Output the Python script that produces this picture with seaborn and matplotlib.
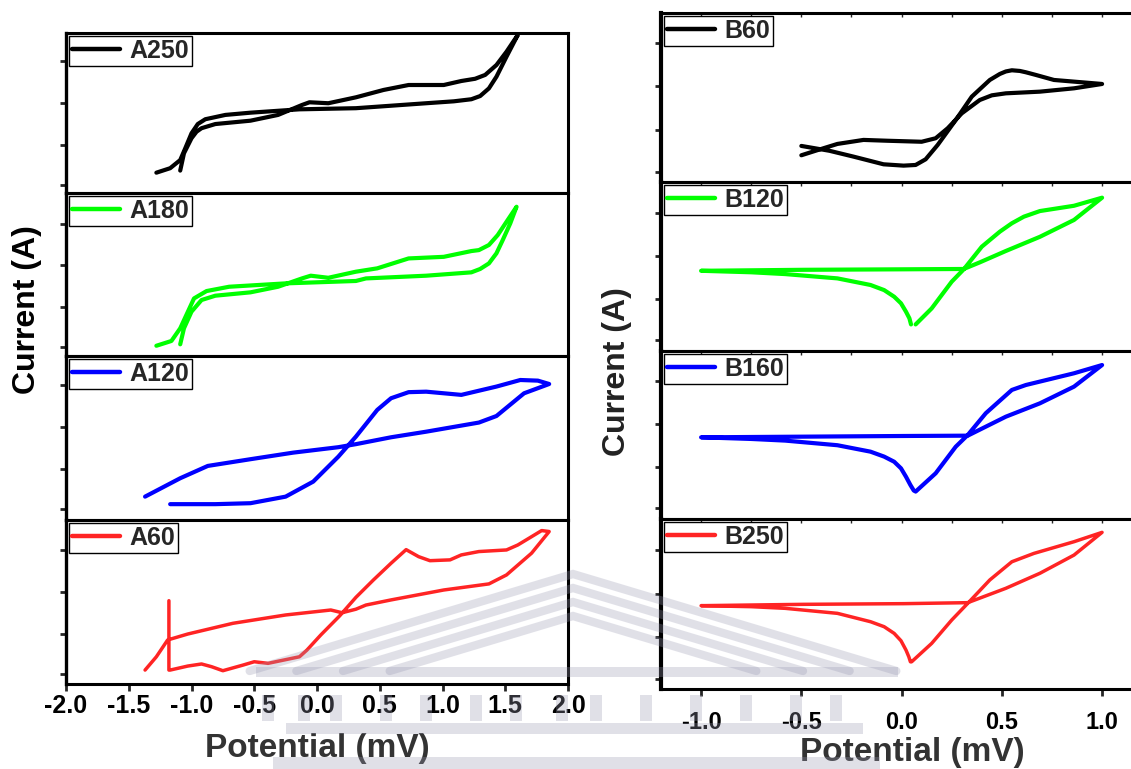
import matplotlib
matplotlib.use("Agg")
import numpy as np
import pandas as pd
import matplotlib.pyplot as plt
import seaborn as sns
from matplotlib.lines import Line2D
from matplotlib.patches import Rectangle
from matplotlib.ticker import FixedLocator

sns.set_theme(style="white")
plt.rcParams['font.family'] = ['Liberation Sans', 'DejaVu Sans']
plt.rcParams['font.weight'] = 'bold'
plt.rcParams['axes.unicode_minus'] = False

# %%
# data (potential in mV, current in arbitrary units)

A250_V = [-1.28, -1.17, -1.09, -1.05, -1.00, -0.95, -0.89, -0.73, -0.53, -0.14, 0.31, 0.87, 1.09, 1.23, 1.30, 1.37,
          1.43, 1.51, 1.60,
          1.51, 1.43, 1.34, 1.26, 1.15, 1.01, 0.73, 0.53, 0.31, 0.09, -0.06, -0.12, -0.31, -0.53, -0.81, -0.92,
          -0.96, -1.00, -1.06, -1.09]
A250_I = [1.25, 1.53, 2.04, 2.77, 3.71, 4.29, 4.59, 4.86, 5.00, 5.21, 5.28, 5.59, 5.71, 5.84, 6.04, 6.52,
          7.25, 8.50, 9.86,
          8.81, 7.98, 7.36, 7.12, 6.98, 6.73, 6.73, 6.42, 5.96, 5.59, 5.65, 5.48, 4.86, 4.50, 4.29, 4.03,
          3.81, 3.40, 2.46, 1.38]

A180_V = [-1.28, -1.16, -1.09, -0.98, -0.88, -0.70, -0.25, 0.31, 0.39, 0.87, 1.23, 1.30, 1.37, 1.43, 1.48,
          1.54, 1.59,
          1.51, 1.44, 1.37, 1.29, 1.23, 1.01, 0.73, 0.48, 0.31, 0.09, -0.05, -0.12, -0.31, -0.53, -0.81, -0.92,
          -1.00, -1.06, -1.09]
A180_I = [0.58, 0.88, 1.67, 3.54, 4.00, 4.27, 4.48, 4.63, 4.79, 4.96, 5.17, 5.38, 5.73, 6.36, 7.19,
          8.23, 9.27,
          8.33, 7.50, 6.88, 6.56, 6.50, 6.14, 6.04, 5.42, 5.21, 4.83, 4.96, 4.79, 4.27, 3.92, 3.71, 3.44,
          2.71, 1.67, 0.67]

A120_V = [-1.37, -1.09, -0.87, -0.53, -0.19, 0.17, 0.31, 0.59, 0.87, 1.29, 1.43, 1.65, 1.85,
          1.76, 1.62, 1.43, 1.15, 0.87, 0.73, 0.59, 0.48, 0.31, 0.17, -0.03, -0.25, -0.53, -0.81, -1.17]
A120_I = [1.25, 2.40, 3.17, 3.59, 4.00, 4.34, 4.53, 4.96, 5.31, 5.88, 6.29, 7.71, 8.29,
          8.50, 8.54, 8.13, 7.61, 7.81, 7.78, 7.40, 6.67, 5.00, 3.75, 2.19, 1.25, 0.84, 0.78, 0.78]

A60_V = [-1.37, -1.28, -1.19, -1.03, -0.67, -0.25, 0.11, 0.20, 0.31, 0.39, 0.59, 1.01, 1.37, 1.51, 1.71, 1.85,
         1.79, 1.71, 1.60, 1.51, 1.29, 1.15, 1.06, 0.90, 0.81, 0.71, 0.59, 0.45, 0.31, 0.18, 0.03, -0.08, -0.14,
         -0.39, -0.50, -0.59, -0.75, -0.84, -0.92, -1.03, -1.17, -1.18, -1.18]
A60_I = [0.73, 1.56, 2.61, 2.98, 3.65, 4.17, 4.48, 4.31, 4.53, 4.79, 5.11, 5.73, 6.11, 6.67, 8.03, 9.38,
         9.44, 9.06, 8.54, 8.23, 8.13, 7.92, 7.61, 7.56, 7.81, 8.25, 7.40, 6.36, 5.27, 4.11, 2.92, 1.98, 1.56,
         1.15, 1.25, 1.04, 0.69, 0.94, 1.11, 0.98, 0.73, 0.73, 5.06]

B60_V = [-0.50, -0.36, -0.24, -0.09, 0.01, 0.07, 0.12, 0.18, 0.27, 0.35, 0.44, 0.49, 0.52, 0.55, 0.59, 0.62, 0.67,
         0.76, 0.86, 1.00,
         0.86, 0.69, 0.52, 0.45, 0.39, 0.30, 0.23, 0.17, 0.10, -0.07, -0.19, -0.32, -0.39, -0.50]
B60_I = [2.04, 1.75, 1.40, 0.94, 0.86, 0.90, 1.24, 2.10, 3.59, 4.99, 5.99, 6.35, 6.50, 6.57, 6.53, 6.45, 6.29,
         5.99, 5.89, 5.75,
         5.49, 5.29, 5.19, 5.07, 4.79, 3.99, 3.10, 2.50, 2.29, 2.35, 2.40, 2.16, 1.90, 1.48]

B120_V = [0.07, 0.15, 0.25, 0.31, 0.40, 0.49, 0.55, 0.61, 0.69, 0.86, 1.00,
          0.86, 0.69, 0.52, 0.39, 0.31, 0.01, -0.49, -1.00,
          -0.75, -0.58, -0.32, -0.155, -0.087, -0.037, -0.003, 0.022, 0.039, 0.047]
B120_I = [1.45, 2.42, 4.04, 4.79, 6.16, 7.07, 7.58, 7.98, 8.32, 8.64, 9.13,
          7.78, 6.76, 5.90, 5.21, 4.81, 4.79, 4.76, 4.70,
          4.61, 4.50, 4.24, 3.84, 3.53, 3.13, 2.73, 2.22, 1.82, 1.45]

B160_V = [0.07, 0.17, 0.27, 0.33, 0.42, 0.55, 0.62, 0.86, 1.00,
          0.86, 0.69, 0.52, 0.33, 0.01, -0.49, -1.00,
          -0.75, -0.58, -0.32, -0.155, -0.087, -0.037, -0.003, 0.022, 0.044, 0.061]
B160_I = [1.52, 2.63, 4.24, 4.95, 6.27, 7.68, 7.98, 8.69, 9.19,
          7.88, 6.87, 6.06, 4.91, 4.89, 4.85, 4.81,
          4.71, 4.61, 4.33, 3.94, 3.64, 3.33, 2.93, 2.42, 1.92, 1.58]

B250_V = [0.05, 0.15, 0.25, 0.33, 0.44, 0.55, 0.66, 0.86, 1.00,
          0.86, 0.69, 0.52, 0.33, 0.01, -0.49, -1.00,
          -0.75, -0.58, -0.32, -0.155, -0.087, -0.037, -0.003, 0.022, 0.036, 0.044]
B250_I = [1.53, 2.63, 4.03, 5.03, 6.43, 7.52, 8.02, 8.72, 9.28,
          7.92, 6.83, 5.93, 5.07, 5.01, 4.97, 4.89,
          4.83, 4.73, 4.43, 3.93, 3.63, 3.23, 2.79, 2.23, 1.83, 1.53]

LEFT_TICKS = [-2.0, -1.5, -1.0, -0.5, 0.0, 0.5, 1.0, 1.5, 2.0]
RIGHT_TICKS = [-1.0, -0.5, 0.0, 0.5, 1.0]

# %%

W, H = 1131, 769
fig = plt.figure(figsize=(W / 100, H / 100), dpi=100)


def box(l, t, r, b):
    return [l / W, 1 - b / H, (r - l) / W, (b - t) / H]


left_panels = [
    ('A250', A250_V, A250_I, '#000000', box(66, 33, 568, 193), (-0.02, 9.98)),
    ('A180', A180_V, A180_I, '#00ff00', box(66, 193, 568, 356), (-0.06, 10.13)),
    ('A120', A120_V, A120_I, '#0000ff', box(66, 356, 568, 520), (-0.21, 10.04)),
    ('A60', A60_V, A60_I, '#ff2424', box(66, 520, 568, 684), (-0.14, 10.10)),
]
right_panels = [
    ('B60', B60_V, B60_I, '#000000', box(661, 13, 1150, 182), (-0.12, 10.0)),
    ('B120', B120_V, B120_I, '#00ff00', box(661, 182, 1150, 351), (-0.16, 10.08)),
    ('B160', B160_V, B160_I, '#0000ff', box(661, 351, 1150, 519), (-0.14, 10.04)),
    ('B250', B250_V, B250_I, '#ff2424', box(661, 519, 1150, 689), (-0.10, 10.08)),
]


def panel(spec, xlim, lw_spine):
    name, v, i, color, pos, ylim = spec
    ax = fig.add_axes(pos)
    df = pd.DataFrame({'Potential': v, 'Current': i})
    sns.lineplot(data=df, x='Potential', y='Current', sort=False, estimator=None,
                 color=color, lw=3.0 if color != '#ff2424' else 2.5,
                 solid_joinstyle='round', label=name, ax=ax)
    ax.set_xlim(*xlim)
    ax.set_ylim(*ylim)
    ax.set_xlabel('')
    ax.set_ylabel('')
    for s in ax.spines.values():
        s.set_visible(True)
        s.set_color('black')
        s.set_linewidth(2.2)
    ax.spines['left'].set_linewidth(lw_spine)
    ax.set_yticks([0.5, 3.0, 5.6, 8.2])
    ax.tick_params(axis='y', left=True, direction='out', length=4, width=2, labelleft=False)
    ax.tick_params(axis='x', bottom=False, labelbottom=False)
    leg = ax.legend(loc='upper left', borderaxespad=0.12, borderpad=0.12, handlelength=1.9,
                    handletextpad=0.4, fancybox=False, framealpha=1,
                    prop={'size': 18, 'weight': 'bold'})
    leg.get_frame().set_edgecolor('black')
    leg.get_frame().set_linewidth(1.0)
    for h in leg.get_lines():
        h.set_linewidth(3.2)
    return ax


for k, spec in enumerate(left_panels):
    ax = panel(spec, (-2.0, 2.0), 2.4)
    if k == 3:
        ax.set_xticks(LEFT_TICKS)
        ax.set_xticklabels(['%.1f' % t for t in LEFT_TICKS])
        ax.tick_params(axis='x', bottom=True, labelbottom=True, direction='out',
                       length=5, width=2, pad=2, labelsize=18, labelcolor='black')

for k, spec in enumerate(right_panels):
    ax = panel(spec, (-1.2, 1.239), 3.0)
    ax.xaxis.set_minor_locator(FixedLocator(np.arange(-1.0, 1.01, 0.25)))
    ax.xaxis.remove_overlapping_locs = False
    ax.tick_params(axis='x', which='minor', top=True, bottom=False, direction='in', length=3, width=1)
    if k == 3:
        ax.set_xticks(RIGHT_TICKS)
        ax.set_xticklabels(['%.1f' % t for t in RIGHT_TICKS])
        ax.tick_params(axis='x', which='major', bottom=True, labelbottom=True, direction='out',
                       length=5, width=2, pad=11, labelsize=17, labelcolor='black')

fig.text(317 / W, 1 - 749 / H, 'Potential (mV)', ha='center', va='center',
         fontsize=24, weight='bold', color='#333333')
fig.text(912 / W, 1 - 752 / H, 'Potential (mV)', ha='center', va='center',
         fontsize=24, weight='bold', color='#333333')
fig.text(27 / W, 1 - 310 / H, 'Current (A)', ha='center', va='center', rotation=90,
         fontsize=23, weight='bold', color='black')
fig.text(617 / W, 1 - 372 / H, 'Current (A)', ha='center', va='center', rotation=90,
         fontsize=23, weight='bold', color='#222222')

# %%
# faint building watermark over the lower middle

wm = dict(color='#9a9ab2', alpha=0.3, zorder=10, transform=fig.transFigure)
for k in range(4):
    ya = 574 + 14 * k
    dx = (671 - ya) / 0.30
    fig.add_artist(Line2D([(573 - dx) / W, 573 / W, (573 + dx) / W],
                          [1 - 671 / H, 1 - ya / H, 1 - 671 / H],
                          lw=6, solid_joinstyle='miter', **wm))
rect = dict(facecolor='#9a9ab2', alpha=0.3, lw=0, zorder=10, transform=fig.transFigure)
fig.add_artist(Rectangle((256 / W, 1 - 677 / H), 642 / W, 10 / H, **rect))
for cx in [262, 298, 330, 380, 420, 470, 510, 556, 590, 640, 690, 740, 790, 830]:
    fig.add_artist(Rectangle((cx / W, 1 - 721 / H), 12 / W, 26 / H, **rect))
fig.add_artist(Rectangle((286 / W, 1 - 734 / H), 577 / W, 11 / H, **rect))
fig.add_artist(Rectangle((273 / W, 0), 607 / W, 12 / H, **rect))

fig.savefig('out.png', dpi=100)
